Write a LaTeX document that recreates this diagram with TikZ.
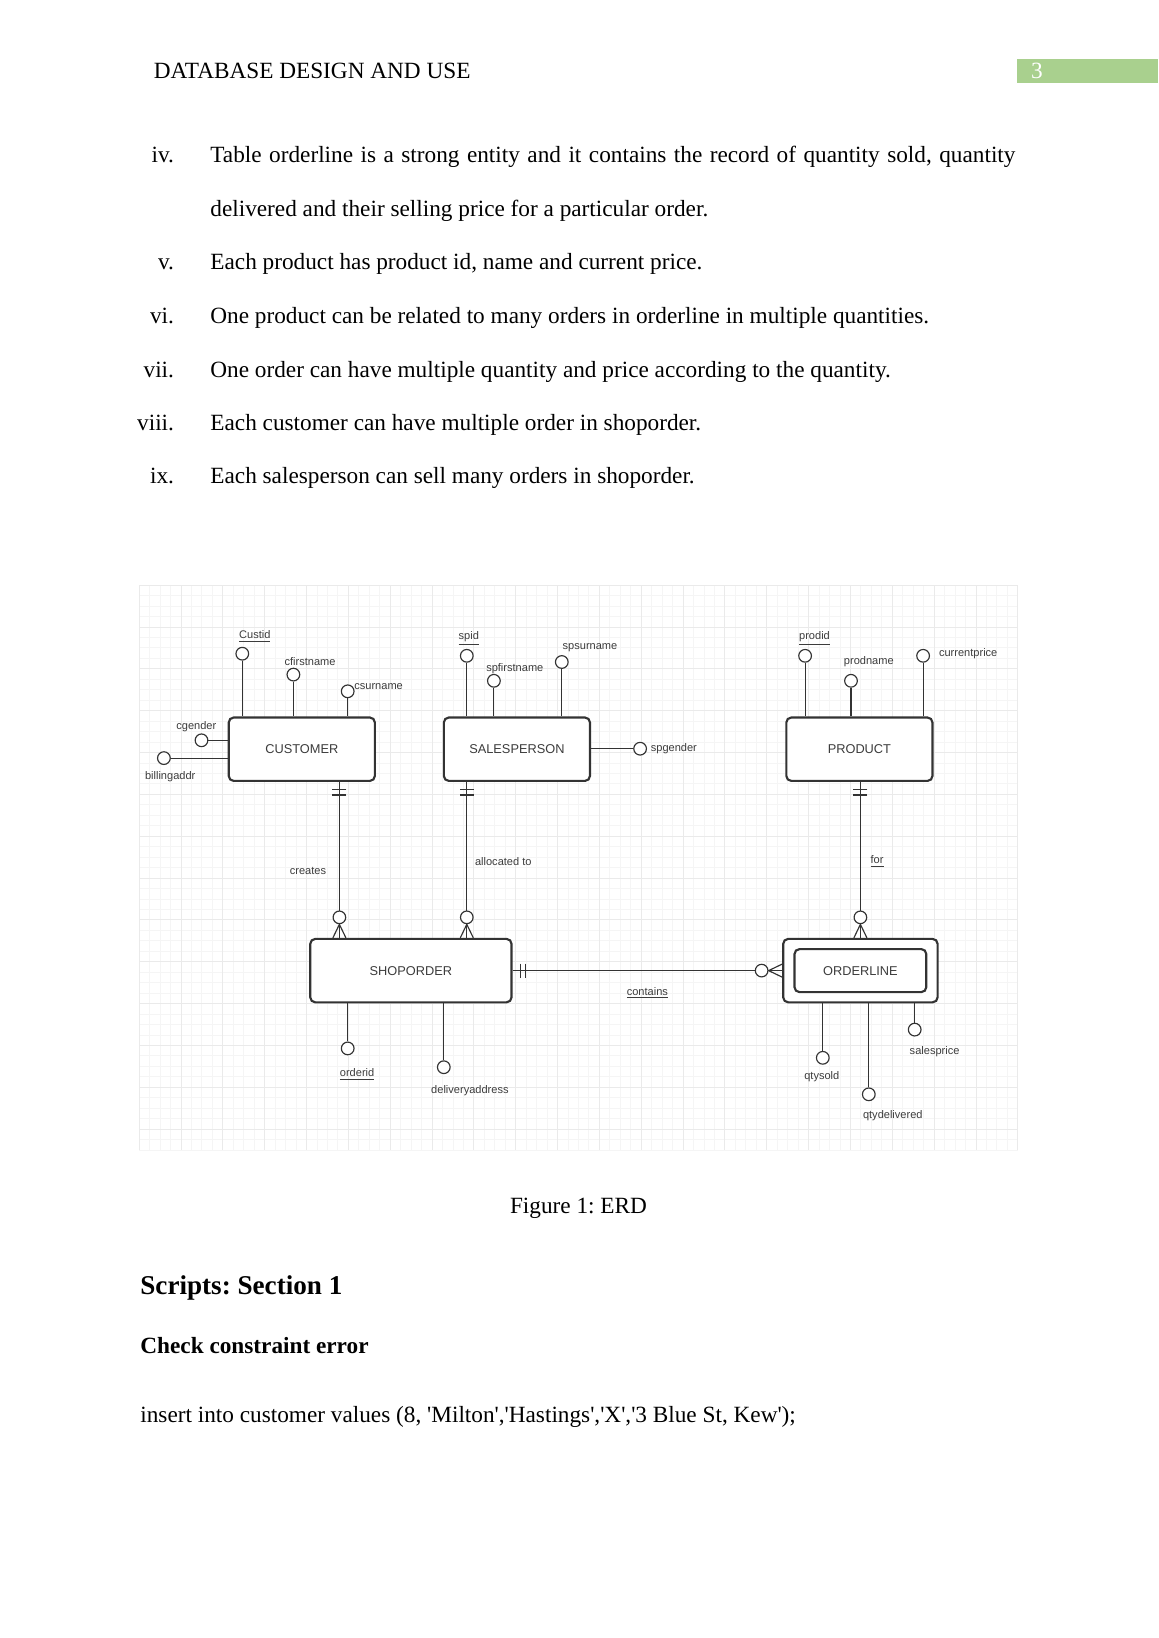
\documentclass[tikz,border=0pt]{standalone}
\usepackage{fontspec}
\setmainfont{Liberation Serif}
\newfontfamily\erdfont{Liberation Sans}
\usetikzlibrary{calc}
\frenchspacing

\definecolor{erline}{HTML}{333333}
\definecolor{ertext}{HTML}{3C3C3C}
\definecolor{headgreen}{HTML}{A9D08E}
\definecolor{gridminor}{HTML}{F5F5F5}
\definecolor{gridmajor}{HTML}{EAEAEA}

\newcommand{\erdbig}{\erdfont\fontsize{6.6}{8}\selectfont}
\newcommand{\erdsmall}{\erdfont\fontsize{5.7}{7}\selectfont}
\newcommand{\sq}{\textquotesingle}

% crow's foot ends: #1 point on the entity border, #2 direction away from it
\newcommand{\onlyone}[2]{%
  \begin{scope}[shift={(#1)}, rotate=#2]
    \draw[rel] (7.5,-7) -- (7.5,7) (13,-7) -- (13,7);
  \end{scope}}
\newcommand{\zeromany}[2]{%
  \begin{scope}[shift={(#1)}, rotate=#2]
    \draw[rel] (0,-6.5) -- (13.5,0) -- (0,6.5);
    \draw[rel, fill=white] (20.5,0) circle[radius=6.3];
  \end{scope}}

\begin{document}
\begin{tikzpicture}[
    x=0.18135mm, y=-0.18135mm,
    body/.style={inner sep=0pt, font=\fontsize{12}{14}\selectfont, text height=8.5pt, text depth=2.5pt},
    entity/.style={draw=erline, line width=1.1pt, rounded corners=0.9mm, fill=white,
        minimum width=26.5mm, minimum height=11.5mm, font=\erdbig, text=ertext},
    attr/.style={draw=erline, circle, line width=0.6pt, fill=white, minimum size=2.3mm, inner sep=0pt},
    lab/.style={inner sep=0.5pt, font=\erdsmall, text=ertext},
    rel/.style={draw=erline, line width=0.6pt},
]

\useasboundingbox (0,0) rectangle (1158,1638);
\fill[white] (0,0) rectangle (1158,1638);

% page header
\node[body, anchor=west] (head) at (153.5,73) {DATABASE DESIGN AND USE};
\fill[headgreen] (1017,58.5) rectangle (1158,82.5);
\node[body, text=white] (pagenum) at (1037,72.5) {3};

% list
\node[body, anchor=east] (n4) at (174.4,156.5) {iv.};
\node[body, anchor=west] (t4) at (210,156.5) {\makebox[146mm][s]{Table orderline is a strong entity and it contains the record of quantity sold, quantity}};
\node[body, anchor=west] (t4b) at (210,210.8) {delivered and their selling price for a particular order.};
\node[body, anchor=east] (n5) at (174.4,264) {v.};
\node[body, anchor=west] (t5) at (210,264) {Each product has product id, name and current price.};
\node[body, anchor=east] (n6) at (174.4,317.3) {vi.};
\node[body, anchor=west] (t6) at (210,317.3) {One product can be related to many orders in orderline in multiple quantities.};
\node[body, anchor=east] (n7) at (174.4,371.6) {vii.};
\node[body, anchor=west] (t7) at (210,371.6) {One order can have multiple quantity and price according to the quantity.};
\node[body, anchor=east] (n8) at (174.4,424.9) {viii.};
\node[body, anchor=west] (t8) at (210,424.9) {Each customer can have multiple order in shoporder.};
\node[body, anchor=east] (n9) at (174.4,478.1) {ix.};
\node[body, anchor=west] (t9) at (210,478.1) {Each salesperson can sell many orders in shoporder.};

% grid behind the ERD
\foreach \i in {0,...,84}
  \draw[gridminor, line width=0.3pt] (139+\i*10.46,585) -- ++(0,565);
\foreach \j in {0,...,54}
  \draw[gridminor, line width=0.3pt] (139,585+\j*10.46) -- ++(879,0);
\foreach \i in {0,4,...,84}
  \draw[gridmajor, line width=0.3pt] (139+\i*10.46,585) -- ++(0,565);
\foreach \j in {0,4,...,54}
  \draw[gridmajor, line width=0.3pt] (139,585+\j*10.46) -- ++(879,0);

% entities
\node[entity] (customer) at (301.8,749.2) {CUSTOMER};
\node[entity] (salesperson) at (516.9,749.2) {SALESPERSON};
\node[entity] (product) at (859.4,749.2) {PRODUCT};
\node[entity, minimum width=36.5mm] (shoporder) at (410.9,970.6) {SHOPORDER};
\node[entity, minimum width=28mm] (orderline) at (860.4,970.6) {};
\node[entity, minimum width=23.9mm, minimum height=7.8mm] (orderlinein) at (orderline) {ORDERLINE};

% customer attributes
\node[attr] (custid) at (242.3,653.7) {};
\node[lab] (custidl) at (254.8,636.5) {\underline{Custid}};
\node[attr] (cfirst) at (293.4,674.6) {};
\node[lab] (cfirstl) at (310.1,662) {cfirstname};
\node[attr] (csur) at (347.7,691.3) {};
\node[lab, anchor=west] (csurl) at (353,687) {csurname};
\node[attr] (cgender) at (201.5,740.3) {};
\node[lab] (cgenderl) at (196.3,726.7) {cgender};
\node[attr] (billing) at (163.9,758.1) {};
\node[lab] (billingl) at (170.2,776.8) {billingaddr};
\draw[rel] (custid) -- (custid |- customer.north);
\draw[rel] (cfirst) -- (cfirst |- customer.north);
\draw[rel] (csur) -- (csur |- customer.north);
\draw[rel] (cgender) -- (cgender -| customer.west);
\draw[rel] (billing) -- (billing -| customer.west);

% salesperson attributes
\node[attr] (spid) at (466.8,655.8) {};
\node[lab] (spidl) at (468.8,638.5) {\underline{spid}};
\node[attr] (spfirst) at (493.9,680.8) {};
\node[lab] (spfirstl) at (514.8,668.2) {spfirstname};
\node[attr] (spsur) at (561.8,662) {};
\node[lab] (spsurl) at (590,647.4) {spsurname};
\node[attr] (spgender) at (640.1,748.7) {};
\node[lab, anchor=west] (spgenderl) at (649.5,748.6) {spgender};
\draw[rel] (spid) -- (spid |- salesperson.north);
\draw[rel] (spfirst) -- (spfirst |- salesperson.north);
\draw[rel] (spsur) -- (spsur |- salesperson.north);
\draw[rel] (spgender) -- (spgender -| salesperson.east);

% product attributes
\node[attr] (prodid) at (805.1,655.8) {};
\node[lab] (prodidl) at (814.5,638.5) {\underline{prodid}};
\node[attr] (prodname) at (851,680.8) {};
\node[lab] (prodnamel) at (868.8,662) {prodname};
\node[attr] (curprice) at (923.1,655.8) {};
\node[lab, anchor=west] (curpricel) at (937.7,653.6) {currentprice};
\draw[rel] (prodid) -- (prodid |- product.north);
\draw[rel] (prodname) -- (prodname |- product.north);
\draw[rel] (curprice) -- (curprice |- product.north);

% shoporder attributes
\node[attr] (orderid) at (347.7,1048.4) {};
\node[lab] (orderidl) at (357.1,1074.5) {\underline{orderid}};
\node[attr] (deladdr) at (443.8,1067.2) {};
\node[lab] (deladdrl) at (469.9,1091.1) {deliveryaddress};
\draw[rel] (orderid) -- (orderid |- shoporder.south);
\draw[rel] (deladdr) -- (deladdr |- shoporder.south);

% orderline attributes
\node[attr] (qtysold) at (822.8,1057.8) {};
\node[lab] (qtysoldl) at (821.8,1076.5) {qtysold};
\node[attr] (qtydel) at (868.8,1094.3) {};
\node[lab] (qtydell) at (892.8,1115.2) {qtydelivered};
\node[attr] (salesprice) at (914.7,1029.6) {};
\node[lab] (salespricel) at (934.6,1051.5) {salesprice};
\draw[rel] (qtysold) -- (qtysold |- orderline.south);
\draw[rel] (qtydel) -- (qtydel |- orderline.south);
\draw[rel] (salesprice) -- (salesprice |- orderline.south);

% relationships
\coordinate (crex) at (339.4,0);
\coordinate (allx) at (466.8,0);
\coordinate (forx) at (860.4,0);

\draw[rel] (crex |- customer.south) -- (crex |- shoporder.north);
\onlyone{crex |- customer.south}{-90}
\zeromany{crex |- shoporder.north}{90}
\node[lab] (creates) at (308,870.8) {creates};

\draw[rel] (allx |- salesperson.south) -- (allx |- shoporder.north);
\onlyone{allx |- salesperson.south}{-90}
\zeromany{allx |- shoporder.north}{90}
\node[lab] (allocated) at (503.3,861.4) {allocated to};

\draw[rel] (forx |- product.south) -- (forx |- orderline.north);
\onlyone{forx |- product.south}{-90}
\zeromany{forx |- orderline.north}{90}
\node[lab] (for) at (877.1,861.4) {\underline{for}};

\draw[rel] (shoporder.east) -- (orderline.west);
\onlyone{shoporder.east}{0}
\zeromany{orderline.west}{180}
\node[lab] (contains) at (647.4,993) {\underline{contains}};

% caption and following text
\node[body] (caption) at (578.5,1208) {Figure 1: ERD};
\node[body, anchor=west, font=\bfseries\fontsize{14}{16}\selectfont, text height=10pt] (sect) at (140,1287) {Scripts: Section 1};
\node[body, anchor=west, font=\bfseries\fontsize{12}{14}\selectfont] (subsect) at (140,1348) {Check constraint error};
\node[body, anchor=west] (script) at (140,1417) {insert into customer values (8, \sq Milton\sq,\sq Hastings\sq,\sq X\sq,\sq 3 Blue St, Kew\sq);};

\end{tikzpicture}
\end{document}
